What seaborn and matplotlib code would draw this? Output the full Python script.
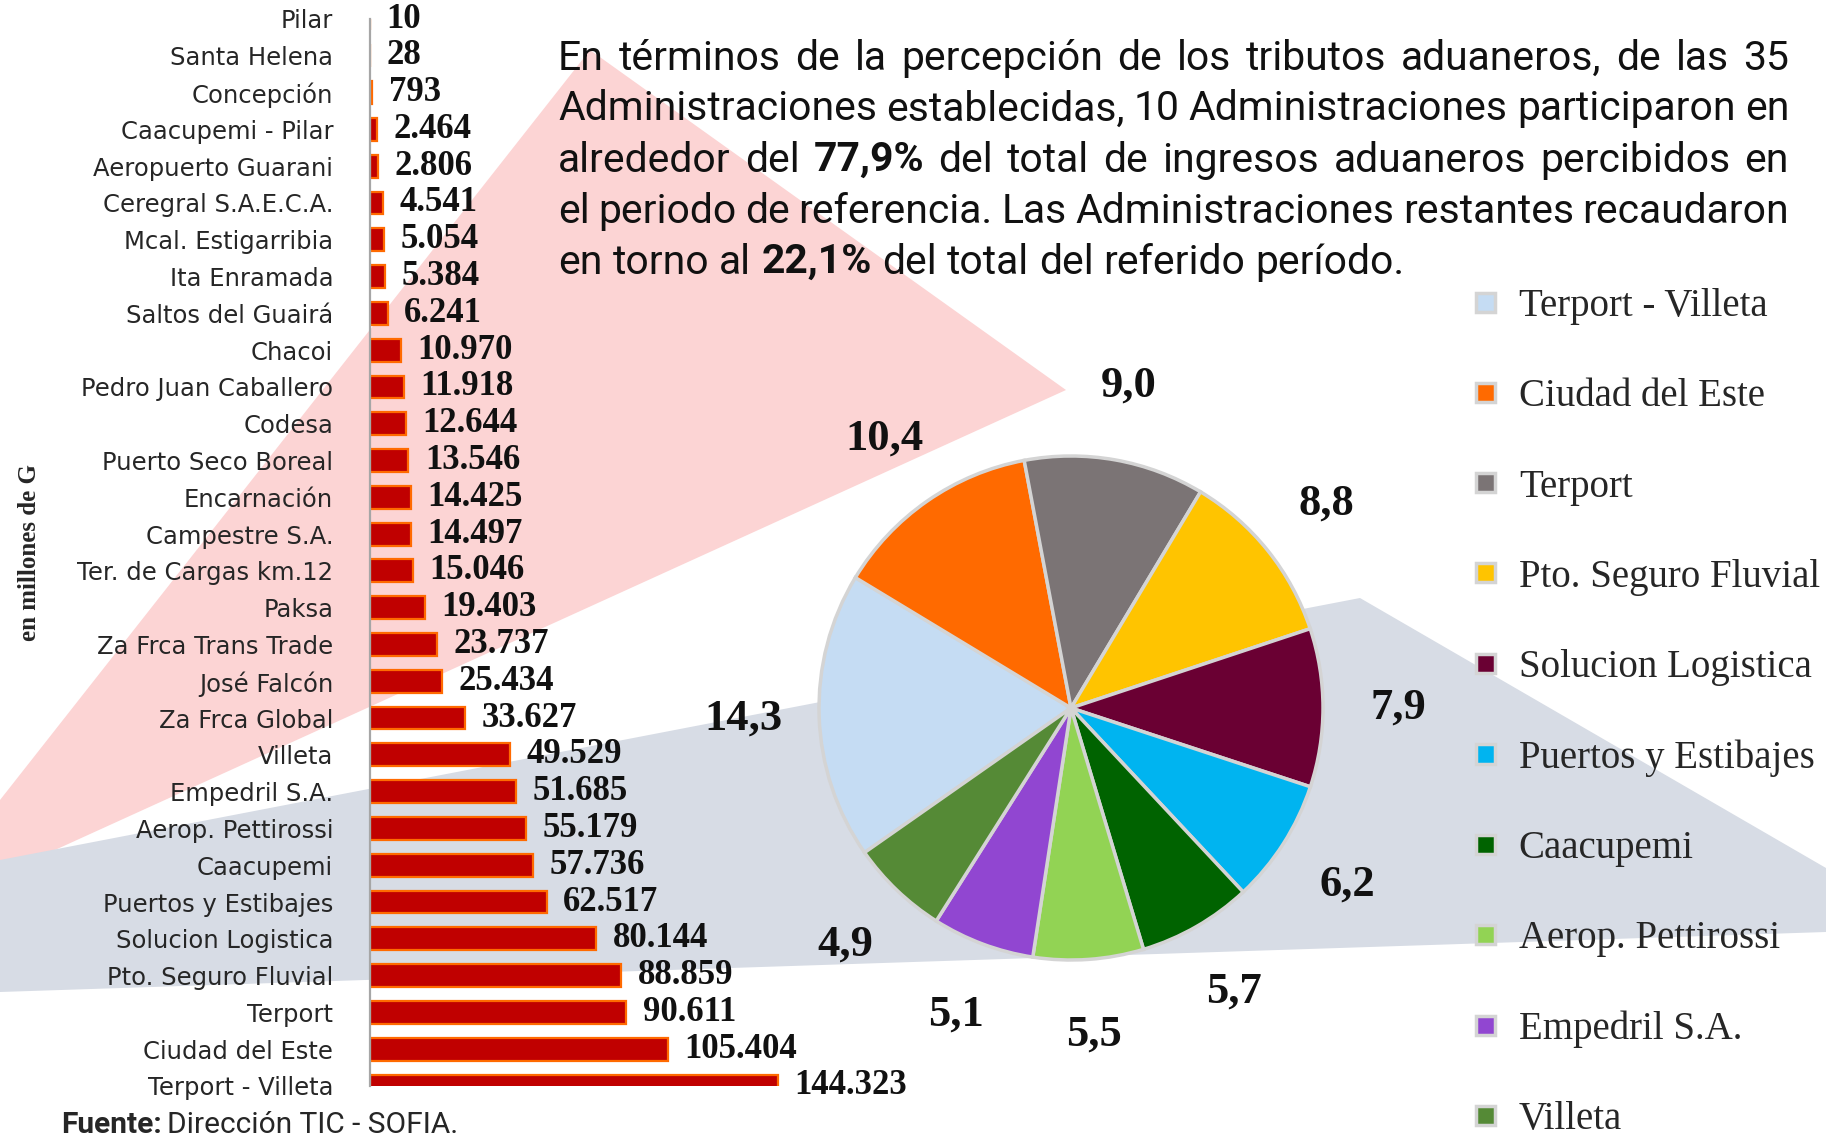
import numpy as np
import pandas as pd
import seaborn as sns
import matplotlib.pyplot as plt
from matplotlib.patches import Polygon

sns.set_style("white")
plt.rcParams['font.family'] = ['DejaVu Sans']

# recaudacion por administracion (millones de G), de menor a mayor
admins = ["Pilar", "Santa Helena", "Concepción", "Caacupemi - Pilar", "Aeropuerto Guarani",
          "Ceregral S.A.E.C.A.", "Mcal. Estigarribia", "Ita Enramada", "Saltos del Guairá",
          "Chacoi", "Pedro Juan Caballero", "Codesa", "Puerto Seco Boreal", "Encarnación",
          "Campestre S.A.", "Ter. de Cargas km.12", "Paksa", "Za Frca Trans Trade",
          "José Falcón", "Za Frca Global", "Villeta", "Empedril S.A.", "Aerop. Pettirossi",
          "Caacupemi", "Puertos y Estibajes", "Solucion Logistica", "Pto. Seguro Fluvial",
          "Terport", "Ciudad del Este", "Terport - Villeta"]
bar_values = [10, 28, 793, 2464, 2806, 4541, 5054, 5384, 6241, 10970, 11918, 12644, 13546,
              14425, 14497, 15046, 19403, 23737, 25434, 33627, 49529, 51685, 55179, 57736,
              62517, 80144, 88859, 90611, 105404, 144323]

# participacion (%) de las 10 principales
pie_names = ["Terport - Villeta", "Ciudad del Este", "Terport", "Pto. Seguro Fluvial",
             "Solucion Logistica", "Puertos y Estibajes", "Caacupemi", "Aerop. Pettirossi",
             "Empedril S.A.", "Villeta"]
pie_pct = [14.3, 10.4, 9.0, 8.8, 7.9, 6.2, 5.7, 5.5, 5.1, 4.9]
pie_colors = ['#c5dcf3', '#ff6a00', '#7b7475', '#ffc400', '#6a0033', '#00b4f0',
              '#006300', '#92d354', '#9146d1', '#558a36']

paragraph = [
    ("En términos de la percepción de los tributos aduaneros, de las 35", True),
    ("Administraciones establecidas, 10 Administraciones participaron en", True),
    ("alrededor del *77,9% del total de ingresos aduaneros percibidos en", True),
    ("el periodo de referencia. Las Administraciones restantes recaudaron", True),
    ("en torno al *22,1% del total del referido período.", False),
]

W, H = 1826, 1145
fig = plt.figure(figsize=(W / 100, H / 100), dpi=100)
fig.patch.set_facecolor('white')
renderer = fig.canvas.get_renderer()

serif = ['Liberation Serif', 'DejaVu Serif']
narrow = ['Roboto', 'DejaVu Sans']


def fx(x):
    return x / W


def fy(y):
    return 1 - y / H


# background shapes of the slide
bg = fig.add_axes([0, 0, 1, 1], zorder=-5)
bg.set_xlim(0, W)
bg.set_ylim(H, 0)
bg.axis('off')
bg.add_patch(Polygon([(590, 50), (1066, 390), (0, 875), (0, 800)], closed=True,
                     facecolor='#fcd4d4', edgecolor='none'))
bg.add_patch(Polygon([(1360, 598), (1826, 868), (1826, 932), (0, 992), (0, 860)],
                     closed=True, facecolor='#d7dce5', edgecolor='none'))

# horizontal bars
ax = fig.add_axes([fx(370), fy(1086), fx(870) - fx(370), fy(19) - fy(1086)])
ax.set_facecolor('none')
sns.barplot(x=bar_values, y=admins, orient='h', color='#c00000', saturation=1,
            edgecolor='#ff6a00', linewidth=1.6, width=0.62, ax=ax)
ax.set_xlim(0, 177000)
ax.set_ylim(len(admins) - 1, 0)
ax.set_xticks([])
ax.set_xlabel('')
ax.set_ylabel('')
for s in ['top', 'right', 'bottom']:
    ax.spines[s].set_visible(False)
ax.spines['left'].set_color('#a6a6a6')
ax.spines['left'].set_linewidth(1.6)
ax.tick_params(axis='y', length=4.5, width=1.2, color='#a6a6a6', pad=22,
               labelsize=17.5, labelcolor='#262626')

labels = [f"{v:,}".replace(',', '.') for v in bar_values]
ax.bar_label(ax.containers[0], labels=labels, padding=12, fontsize=25,
             fontweight='bold', family=serif, color='#111111', annotation_clip=False)

fig.text(fx(29), fy(553), "en millones de G", rotation=90, ha='center', va='center',
         fontsize=18, fontweight='bold', family=serif)

# pie of the ten largest
cx, cy, r = 1071, 708, 252
pax = fig.add_axes([fx(cx - 1.25 * r), fy(cy + 1.25 * r), 2.5 * r / W, 2.5 * r / H])
pie_labels = [f"{v:.1f}".replace('.', ',') for v in pie_pct]
wedges, texts = pax.pie(pie_pct, colors=pie_colors, startangle=215, counterclock=False,
                        labels=pie_labels, labeldistance=1.3,
                        wedgeprops=dict(edgecolor='#d4d4d4', linewidth=2.5),
                        textprops=dict(fontsize=32, fontweight='bold', color='#111111',
                                       family=serif))
for t in texts:
    t.set_ha('center')

fig.legend(wedges, pie_names, loc='upper left', bbox_to_anchor=(fx(1476), fy(288)),
           frameon=False, prop={'family': serif, 'size': 28},
           handlelength=0.5, handleheight=0.38, handletextpad=0.6, labelspacing=1.37,
           borderpad=0, borderaxespad=0)

# justified paragraph


def line_words(s):
    return [(w[1:], True) if w.startswith('*') else (w, False) for w in s.split(' ')]


def measure(words, size):
    ts = [fig.text(0, 0, w, fontsize=size, family=narrow,
                   fontweight='bold' if b else 'normal') for w, b in words]
    ws = [t.get_window_extent(renderer).width for t in ts]
    for t in ts:
        t.remove()
    return ws


probe = line_words(paragraph[-1][0])
ws = measure(probe, 28)
sp = measure([("a a", False), ("aa", False)], 28)
space28 = sp[0] - sp[1]
size = 28 * 845 / (sum(ws) + space28 * (len(ws) - 1))
space = space28 * size / 28

x0, x1 = 558, 1789
line_y = [58, 109, 160, 211, 262]
for (text, justify), y in zip(paragraph, line_y):
    words = line_words(text)
    ws = measure(words, size)
    gap = (x1 - x0 - sum(ws)) / (len(ws) - 1) if justify else space
    x = x0
    for (w, b), wd in zip(words, ws):
        fig.text(fx(x), fy(y), w, fontsize=size, family=narrow, va='center', ha='left',
                 fontweight='bold' if b else 'normal', color='#111111')
        x += wd + gap

# fuente
f1 = fig.text(fx(61), fy(1125), "Fuente:", fontsize=21.5, family=narrow, fontweight='bold',
              va='center', ha='left')
w1 = f1.get_window_extent(renderer).width
fig.text(fx(61 + w1 + 5), fy(1125), "Dirección TIC - SOFIA.", fontsize=21.5, family=narrow,
         va='center', ha='left')

fig.savefig('out.png', dpi=100)
